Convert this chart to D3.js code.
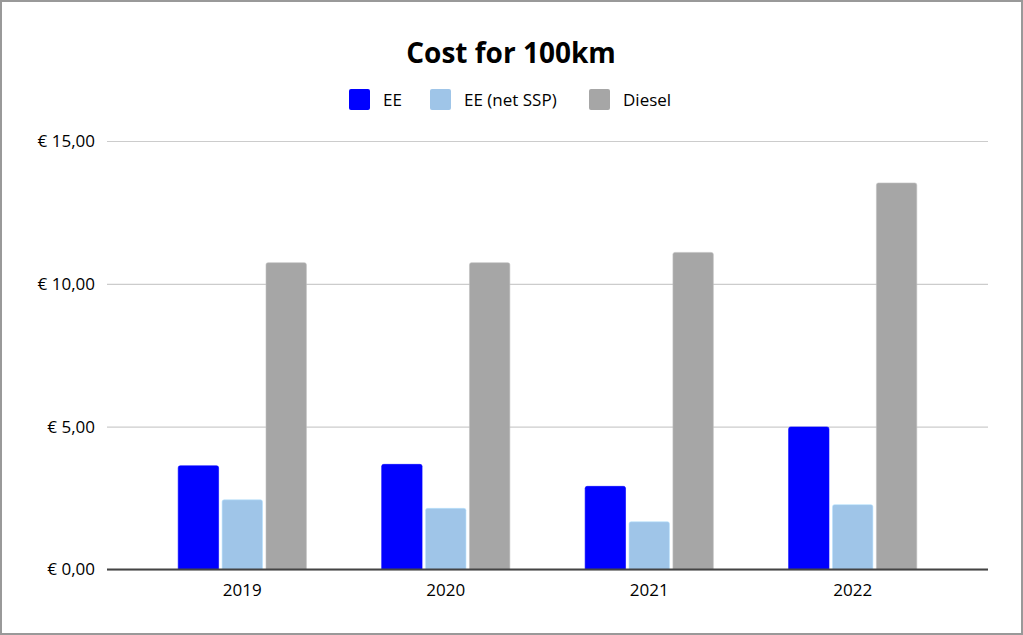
<!DOCTYPE html>
<html>
<head>
<meta charset="utf-8">
<script src="https://cdn.jsdelivr.net/npm/d3@7"></script>
<style>
  html, body { margin: 0; padding: 0; background: #fff; }
  svg { display: block; font-family: "Open Sans", "Noto Sans", sans-serif; }
</style>
</head>
<body>
<div id="chart"></div>
<script>
// Chart data
const years = ["2019", "2020", "2021", "2022"];
const seriesNames = ["EE", "EE (net SSP)", "Diesel"];
const eeValues = [3.63, 3.68, 2.91, 4.99];
const eeNetValues = [2.44, 2.14, 1.67, 2.27];
const dieselValues = [10.74, 10.74, 11.10, 13.53];
const yTicks = [0, 5, 10, 15];
const colors = ["#0000ff", "#9fc5e8", "#a6a6a6"];

const width = 1023;
const height = 635;
const margin = { top: 141, right: 35, bottom: 65.5, left: 107 };

const table = years.map((y, i) => ({
    year: y,
    values: [eeValues[i], eeNetValues[i], dieselValues[i]]
}));

const svg = d3.select("#chart")
    .append("svg")
    .attr("width", width)
    .attr("height", height);

// Outer frame
svg.append("rect")
    .attr("x", 1).attr("y", 1)
    .attr("width", width - 2).attr("height", height - 2)
    .attr("fill", "#fff")
    .attr("stroke", "#999")
    .attr("stroke-width", 2);

// Scales
const x0 = d3.scaleBand()
    .domain(years)
    .range([margin.left, width - margin.right])
    .paddingInner(0.37)
    .paddingOuter(0.35);

const x1 = d3.scaleBand()
    .domain(seriesNames)
    .range([0, x0.bandwidth()])
    .paddingInner(0.08);

const y = d3.scaleLinear()
    .domain([0, 15])
    .range([height - margin.bottom, margin.top]);

const euro = (v) => "€ " + d3.format(".2f")(v).replace(".", ",");

// Grid lines + y labels
const yAxis = d3.axisLeft(y)
    .tickValues(yTicks)
    .tickSize(-(width - margin.left - margin.right))
    .tickPadding(12)
    .tickFormat(euro);

const gy = svg.append("g")
    .attr("transform", `translate(${margin.left},0)`)
    .call(yAxis);
gy.select(".domain").remove();
gy.selectAll(".tick line").attr("stroke", "#cccccc").attr("stroke-width", 1.2);
gy.selectAll(".tick text")
    .attr("font-size", 17)
    .attr("fill", "#000")
    .attr("font-family", "'Open Sans', sans-serif");

// Bars with rounded top corners
const topRounded = (bx, by, bw, bh, r) =>
    `M${bx},${by + bh}V${by + r}Q${bx},${by} ${bx + r},${by}H${bx + bw - r}Q${bx + bw},${by} ${bx + bw},${by + r}V${by + bh}Z`;

const groups = svg.append("g")
    .selectAll("g")
    .data(table)
    .join("g")
    .attr("transform", d => `translate(${x0(d.year)},0)`);

groups.selectAll("path")
    .data(d => d.values.map((v, i) => ({ key: seriesNames[i], value: v, i })))
    .join("path")
    .attr("d", d => topRounded(x1(d.key), y(d.value), x1.bandwidth(), y(0) - y(d.value), 2))
    .attr("fill", d => colors[d.i])
    .attr("stroke", d => d3.color(colors[d.i]).brighter(0.4))
    .attr("stroke-width", 0.6);

// X axis (baseline + year labels)
const xAxis = d3.axisBottom(x0).tickSize(0).tickPadding(14);
const gx = svg.append("g")
    .attr("transform", `translate(0,${y(0)})`)
    .call(xAxis);
gx.select(".domain").remove();
gx.selectAll(".tick text")
    .attr("font-size", 17)
    .attr("fill", "#000")
    .attr("font-family", "'Open Sans', sans-serif");

svg.append("line")
    .attr("x1", margin.left).attr("x2", width - margin.right)
    .attr("y1", y(0)).attr("y2", y(0))
    .attr("stroke", "#444")
    .attr("stroke-width", 2);

// Title
svg.append("text")
    .attr("x", 511)
    .attr("y", 63)
    .attr("text-anchor", "middle")
    .attr("font-size", 28)
    .attr("font-weight", "bold")
    .attr("fill", "#000")
    .text("Cost for 100km");

// Legend
const legendX = [349, 430, 589];
const legend = svg.append("g")
    .selectAll("g")
    .data(seriesNames)
    .join("g")
    .attr("transform", (d, i) => `translate(${legendX[i]},89)`);

legend.append("rect")
    .attr("width", 21).attr("height", 21)
    .attr("rx", 2)
    .attr("fill", (d, i) => colors[i]);

legend.append("text")
    .attr("x", 34)
    .attr("y", 16.5)
    .attr("font-size", 17)
    .attr("fill", "#000")
    .text(d => d);
</script>
</body>
</html>
